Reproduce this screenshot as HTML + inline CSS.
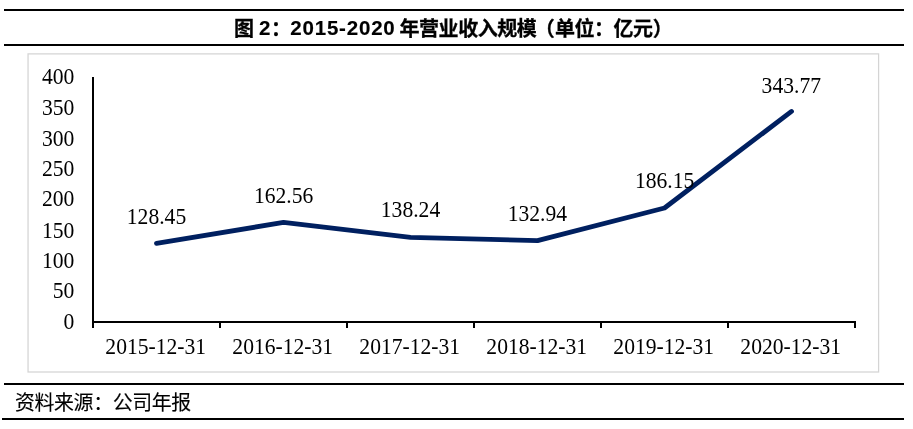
<!DOCTYPE html>
<html lang="zh-CN">
<head>
<meta charset="utf-8">
<title>图 2：2015-2020 年营业收入规模</title>
<style>
html,body{margin:0;padding:0;background:#fff;}
body{width:913px;height:429px;position:relative;overflow:hidden;}
.rule{position:absolute;background:#000;height:2px;}
#title{position:absolute;left:0;top:13.6px;width:913px;height:30px;line-height:30px;white-space:pre;will-change:transform;
  font-family:"Liberation Sans","Noto Sans CJK SC",sans-serif;font-weight:bold;font-size:20px;letter-spacing:-0.45px;color:#000;-webkit-text-stroke:0.3px #000;}
#title span{position:absolute;top:0;}
#title .l{font-size:20.5px;top:-1.2px;letter-spacing:0;-webkit-text-stroke:0.15px #000;}
#source{position:absolute;left:15px;top:388.9px;height:28px;line-height:28px;white-space:nowrap;
  font-family:"Liberation Sans","Noto Sans CJK SC",sans-serif;font-size:19.9px;letter-spacing:-0.35px;color:#000;will-change:transform;-webkit-text-stroke:0.12px #000;}
svg{position:absolute;left:0;top:0;will-change:transform;}
.t{font-family:"Liberation Serif",serif;font-size:21.6px;fill:#000;}
</style>
</head>
<body>
<div class="rule" style="left:4px;top:9px;width:900px;"></div>
<div class="rule" style="left:4px;top:44px;width:900px;"></div>
<div id="title"><span style="left:234px">图 </span><span class="l" style="left:259px">2</span><span style="left:271px">：</span><span class="l" style="left:290.3px;letter-spacing:0.8px">2015-2020 </span><span style="left:399.5px">年营业收入规模<span style="position:static;margin-left:-1.6px;margin-right:0.6px">（</span>单位：亿元）</span></div>
<svg width="913" height="429" viewBox="0 0 913 429">
  <rect x="28.04" y="53.88" width="850.56" height="318.12" fill="none" stroke="#d4d4d4" stroke-width="1.25"/>
  <g stroke="#000" stroke-width="2" fill="none" shape-rendering="crispEdges">
    <line x1="93" y1="77" x2="93" y2="328"/>
    <line x1="92" y1="322" x2="856" y2="322"/>
    <line x1="220" y1="322" x2="220" y2="328"/>
    <line x1="347" y1="322" x2="347" y2="328"/>
    <line x1="474" y1="322" x2="474" y2="328"/>
    <line x1="601" y1="322" x2="601" y2="328"/>
    <line x1="728" y1="322" x2="728" y2="328"/>
    <line x1="855" y1="322" x2="855" y2="328"/>
  </g>
  <polyline fill="none" stroke="#002060" stroke-width="4.8" stroke-linecap="round" stroke-linejoin="round"
    points="156.5,243.32 283.5,222.43 410.5,237.33 537.5,240.57 664.5,207.98 791.5,111.44"/>
  <g class="t">
    <text transform="translate(74.30 84.10) scale(1 1.035)" text-anchor="end">400</text>
    <text transform="translate(74.30 115.10) scale(1 1.035)" text-anchor="end">350</text>
    <text transform="translate(74.30 145.50) scale(1 1.035)" text-anchor="end">300</text>
    <text transform="translate(74.30 176.30) scale(1 1.035)" text-anchor="end">250</text>
    <text transform="translate(74.30 206.30) scale(1 1.035)" text-anchor="end">200</text>
    <text transform="translate(74.30 237.50) scale(1 1.035)" text-anchor="end">150</text>
    <text transform="translate(74.30 267.60) scale(1 1.035)" text-anchor="end">100</text>
    <text transform="translate(74.30 298.20) scale(1 1.035)" text-anchor="end">50</text>
    <text transform="translate(74.30 328.60) scale(1 1.035)" text-anchor="end">0</text>
  </g>
  <g class="t">
    <text transform="translate(155.70 354.00) scale(1 1.035)" text-anchor="middle">2015-12-31</text>
    <text transform="translate(282.70 354.00) scale(1 1.035)" text-anchor="middle">2016-12-31</text>
    <text transform="translate(409.70 354.00) scale(1 1.035)" text-anchor="middle">2017-12-31</text>
    <text transform="translate(536.70 354.00) scale(1 1.035)" text-anchor="middle">2018-12-31</text>
    <text transform="translate(663.70 354.00) scale(1 1.035)" text-anchor="middle">2019-12-31</text>
    <text transform="translate(790.70 354.00) scale(1 1.035)" text-anchor="middle">2020-12-31</text>
  </g>
  <g class="t">
    <text transform="translate(156.50 223.55) scale(1 1.035)" text-anchor="middle">128.45</text>
    <text transform="translate(283.60 203.30) scale(1 1.035)" text-anchor="middle">162.56</text>
    <text transform="translate(410.50 217.45) scale(1 1.035)" text-anchor="middle">138.24</text>
    <text transform="translate(537.40 221.20) scale(1 1.035)" text-anchor="middle">132.94</text>
    <text transform="translate(664.60 188.30) scale(1 1.035)" text-anchor="middle">186.15</text>
    <text transform="translate(791.30 92.70) scale(1 1.035)" text-anchor="middle">343.77</text>
  </g>
</svg>
<div class="rule" style="left:4px;top:383px;width:900px;"></div>
<div id="source">资料来源：公司年报</div>
<div class="rule" style="left:2px;top:418px;width:902px;"></div>
</body>
</html>
